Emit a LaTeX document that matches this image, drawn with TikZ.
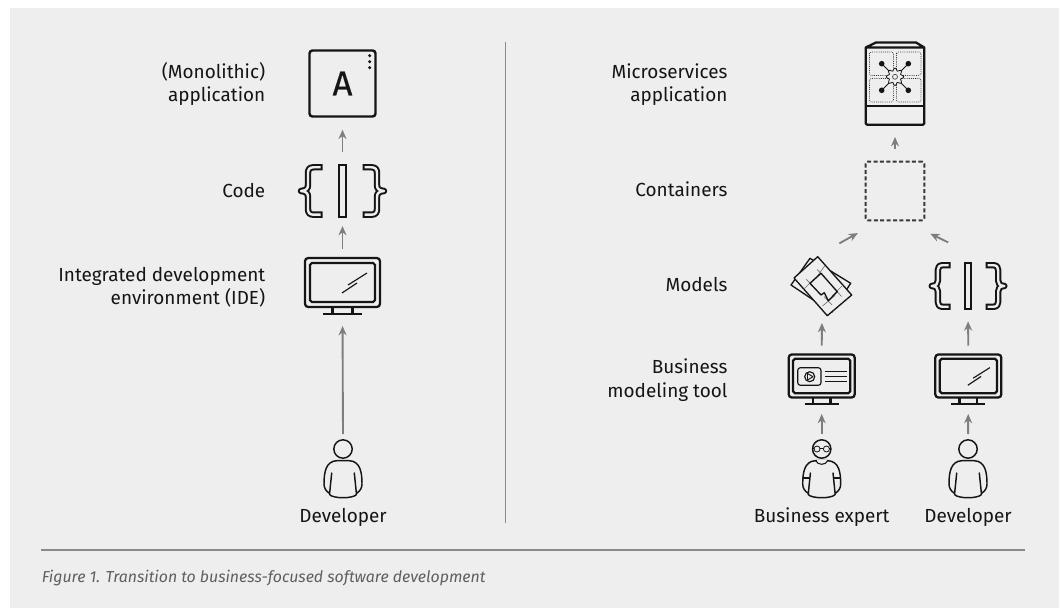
\documentclass[tikz,border=0pt]{standalone}
\usepackage{fontspec}
\setmainfont{Fira Sans}
\usetikzlibrary{arrows.meta}
\definecolor{panel}{HTML}{EEEEEE}
\definecolor{ink}{HTML}{151515}
\definecolor{rulegray}{HTML}{8A8A8A}
\definecolor{arrowgray}{HTML}{7E7E7E}
\definecolor{capgray}{HTML}{5F5F5F}
\tikzset{
  x=0.75pt,y=-0.75pt,
  lab/.style={font=\fontsize{14.2}{17.25}\selectfont,text=ink,inner sep=0pt,align=right,anchor=base east},
  who/.style={font=\fontsize{14.2}{17.25}\selectfont,text=ink,inner sep=0pt,anchor=base},
  hold/.style={inner sep=0pt,outer sep=0pt,minimum width=#1*0.75pt},
  conn/.style={draw=arrowgray,line width=1.4pt,-{Stealth[length=7pt,width=6pt]}},
  heavy/.style={draw=ink,line width=1.7pt},
  thin/.style={draw=ink,line width=.85pt},
  bodyline/.style={draw=ink,line width=1.1pt},
  monitorpic/.pic={
    \draw[heavy,rounded corners=2.4pt] (-37.5,-24.5) rectangle (37.5,24.5);
    \draw[heavy,rounded corners=1.4pt] (-32.5,-19.5) rectangle (32.5,19.5);
    \draw[heavy] (-10,25) -- (-10,31.5) (10,25) -- (10,31.5);
    \draw[heavy] (-19.5,31.5) -- (19.5,31.5);
  },
  slashpic/.pic={
    \draw[thin] (24.5,-9.5) -- (5.5,2.5) (14.5,.5) -- (-.5,10.5);
  },
  bracepic/.pic={
    \foreach \s in {1,-1}{
      \draw[draw=ink,line width=4.8pt,line join=round]
        (\s*-20,-23.7) -- (\s*-29,-23.7) .. controls (\s*-33,-23.7) and (\s*-34.5,-21.5) .. (\s*-34.5,-18)
        -- (\s*-34.5,-6) .. controls (\s*-34.5,-2.5) and (\s*-36,-.5) .. (\s*-41.5,0)
        .. controls (\s*-36,.5) and (\s*-34.5,2.5) .. (\s*-34.5,6)
        -- (\s*-34.5,18) .. controls (\s*-34.5,21.5) and (\s*-33,23.7) .. (\s*-29,23.7) -- (\s*-20,23.7);
      \draw[draw=panel,line width=1.8pt,line join=round,shorten >=1.5pt,shorten <=1.5pt]
        (\s*-20,-23.7) -- (\s*-29,-23.7) .. controls (\s*-33,-23.7) and (\s*-34.5,-21.5) .. (\s*-34.5,-18)
        -- (\s*-34.5,-6) .. controls (\s*-34.5,-2.5) and (\s*-36,-.5) .. (\s*-41.5,0)
        .. controls (\s*-36,.5) and (\s*-34.5,2.5) .. (\s*-34.5,6)
        -- (\s*-34.5,18) .. controls (\s*-34.5,21.5) and (\s*-33,23.7) .. (\s*-29,23.7) -- (\s*-20,23.7);
    }
    \draw[draw=ink,line width=1.4pt] (-3.4,-26) rectangle (3.4,26);
  },
  personhead/.pic={\draw[bodyline] (0,0) circle (9.2);},
  bodypic/.pic={
    \draw[bodyline,line cap=round,line join=round]
      (-13.5,45.5) .. controls (-10,49.8) and (10,49.8) .. (13.5,45.5)
      (-13.5,45.5) -- (-11.3,24)
      (13.5,45.5) -- (11.3,24)
      (-14,44) .. controls (-17,42) and (-19,39) .. (-19,35)
      .. controls (-19,24) and (-17.5,12) .. (-6,11.7) -- (6,11.7)
      .. controls (17.5,12) and (19,24) .. (19,35)
      .. controls (19,39) and (17,42) .. (14,44);
  },
  expertextra/.pic={
    \draw[draw=panel,line width=1.8pt] (-5,11.7) -- (5,11.7);
    \draw[thin,line width=.8pt] (-6,11.7) .. controls (-4,16.5) and (4,16.5) .. (6,11.7);
    \draw[bodyline] (-19,29) -- (-12,29) (19,29) -- (12,29);
    \draw[thin,line width=.6pt] (-4.7,0) circle (3) (4.7,0) circle (3);
    \draw[thin,line width=.6pt] (-1.7,-.4) -- (1.7,-.4) (-7.7,-.4) -- (-9,-.4) (7.7,-.4) -- (9,-.4);
  },
}
\begin{document}
\begin{tikzpicture}
\useasboundingbox (0,0) rectangle (1059,609);
\fill[white] (0,0) rectangle (1059,609);
\fill[panel] (10,8) rectangle (1059,608);
\draw[draw=rulegray,line width=1.1pt] (505.5,42) -- (505.5,523);
\draw[draw=rulegray,line width=1.1pt] (41,550) -- (1025,550);

% labels
\node[lab] (l1) at (265.5,101.7) {(Monolithic)\\application};
\node[lab] (l2) at (265.5,197.3) {Code};
\node[lab] (l3) at (265.5,305) {Integrated development\\environment (IDE)};
\node[lab] (r1) at (727.7,101.7) {Microservices\\application};
\node[lab] (r2) at (727.7,197) {Containers};
\node[lab] (r3) at (727.7,292) {Models};
\node[lab] (r4) at (727.7,397) {Business\\modeling tool};
\node[who] (w1) at (343,522.5) {Developer};
\node[who] (w2) at (821.7,522.5) {Business expert};
\node[who] (w3) at (968,522.5) {Developer};
\node[anchor=base west,inner sep=0pt,text=capgray,font=\fontsize{11.9}{15}\selectfont\itshape] (cap) at (41.5,582.5) {Figure 1. Transition to business-focused software development};

% left column
\node[heavy,line width=1.8pt,rounded corners=2.2pt,minimum width=49.5pt,minimum height=49.5pt,inner sep=0pt,text=ink,font=\fontsize{26}{26}\selectfont\addfontfeature{FakeBold=0.4}] (app) at (342.5,83.5) {A};
\fill[ink] (369.7,55.7) circle (1.7) (369.7,61.7) circle (1.7) (369.7,67.7) circle (1.7);

\node[hold=91,minimum height=40.5pt] (code) at (342.5,191) {};
\pic at (342.5,191) {bracepic};

\node[hold=77,minimum height=42.75pt] (ide) at (342.5,285.5) {};
\pic at (342.5,282.5) {monitorpic};
\pic at (342.5,282.5) {slashpic};

\node[hold=38,minimum height=44.25pt] (dev) at (343,469.5) {};
\pic at (343,449) {personhead};
\pic at (343,449) {bodypic};

\draw[conn,shorten <=9pt,shorten >=9pt] (code.north) -- (app.south);
\draw[conn,shorten <=6pt,shorten >=6pt] (ide.north) -- (code.south);
\draw[conn,shorten <=4.5pt,shorten >=9pt] (dev.north) -- (ide.south);

% right column: application
\node[hold=60,minimum height=62.25pt] (micro) at (895,83.5) {};
\draw[heavy,line join=round,rounded corners=1pt] (865.7,48) -- (865.7,124.7) -- (924.3,124.7) -- (924.3,48);
\draw[heavy,line join=round] (865.7,47.5) -- (876,42.5) -- (916,42.5) -- (924.3,47.5) -- cycle;
\draw[heavy] (865.7,105.7) -- (924.3,105.7);
\foreach \a/\b/\c/\d in {869.5/52/893.5/75.5, 896.5/52/921/75.5, 869.5/78.5/893.5/102, 896.5/78.5/921/102}
  \draw[draw=ink,line width=.7pt,line cap=round,dash pattern=on 0pt off 1.4pt,rounded corners=1.2pt] (\a,\b) rectangle (\c,\d);
\draw[thin,line width=.75pt] (881.7,63.7) -- (908.3,90.3) (908.3,63.7) -- (881.7,90.3);
\fill[ink] (881.7,63.7) circle (2.8) (908.3,63.7) circle (2.8) (881.7,90.3) circle (2.8) (908.3,90.3) circle (2.8);
\draw[thin,line width=.6pt,fill=panel] plot[samples=73,domain=0:360] ({895+(7.4+1.3*cos(8*\x))*cos(\x)},{76.8+(7.4+1.3*cos(8*\x))*sin(\x)});
\draw[draw=ink!75,line width=.55pt] (895,76.8) circle (2.5);

% containers
\node[draw=ink!85,line width=1.4pt,dash pattern=on 3pt off 1.8pt,rounded corners=1.5pt,minimum width=44pt,minimum height=44pt,inner sep=0pt] (cont) at (895,191) {};

% models
\node[hold=60,minimum height=46.5pt] (models) at (822,284) {};
\draw[thin,line width=1pt,line join=round] (810,258.3) -- (791,285) -- (831.7,312.3) -- (850.7,283.3) -- cycle;
\draw[thin,line width=1pt,line join=round,fill=panel] (817.7,256.7) -- (851.7,295) -- (827.3,315.7) -- (794,278) -- cycle;
\draw[draw=ink!60,line width=.5pt]
  (817,269.5) -- (825,277) (825,265.5) -- (816,278)
  (806,279) -- (814,287.5) (803,290) -- (815,278)
  (833,287) -- (841.5,296.5) (843,285) -- (832,296)
  (824,296.5) -- (832,305) (835,295.5) -- (822.5,306);
\draw[thin,line width=1pt,line join=round] (821,273.3) -- (837.3,291.7) -- (828.3,300.7) -- (824.3,292.7) -- (821,295) -- (810,283.3) -- cycle;

% code right
\node[hold=80,minimum height=35pt] (code2) at (968,286) {};
\pic[scale=.875] at (968,286) {bracepic};

% monitors right
\node[hold=68,minimum height=37.2pt] (bmt) at (821.7,378.5) {};
\pic[scale=.88] at (821.7,376) {monitorpic};
\draw[thin,rounded corners=2pt] (797.7,367.7) rectangle (821,385.3);
\draw[thin] (809.7,376.7) circle (5);
\draw[thin,line width=.7pt,line join=round] (807.5,373.5) -- (813,376.7) -- (807.5,380) -- cycle;
\draw[thin] (825,371.7) -- (846.7,371.7) (825,376.7) -- (846.7,376.7) (825,381.7) -- (846.7,381.7);

\node[hold=68,minimum height=37.2pt] (ide2) at (968.3,378.5) {};
\pic[scale=.88] at (968.3,376) {monitorpic};
\pic[scale=.88] at (968.3,376) {slashpic};

% people right
\node[hold=38,minimum height=44.25pt] (exp) at (821.7,469.5) {};
\pic at (821.7,449) {personhead};
\pic at (821.7,449) {bodypic};
\pic at (821.7,449) {expertextra};

\node[hold=38,minimum height=44.25pt] (dev2) at (968,469.5) {};
\pic at (968,449) {personhead};
\pic at (968,449) {bodypic};

\draw[conn,shorten <=9pt,shorten >=9pt] (cont.north) -- (micro.south);
\draw[conn,shorten <=14.9pt,shorten >=5.9pt] (models.north) -- ([yshift=-6pt]cont.south west);
\draw[conn,shorten <=16.5pt,shorten >=4.2pt] ([yshift=8pt]code2.north) -- ([yshift=-7.5pt]cont.south east);
\draw[conn,shorten <=6pt,shorten >=6pt] (bmt.north) -- (models.south);
\draw[conn,shorten <=6pt,shorten >=9pt] (ide2.north) -- (code2.south);
\draw[conn,shorten <=4.5pt,shorten >=8pt] (exp.north) -- (bmt.south);
\draw[conn,shorten <=4.5pt,shorten >=8pt] (dev2.north) -- (ide2.south);
\end{tikzpicture}
\end{document}
